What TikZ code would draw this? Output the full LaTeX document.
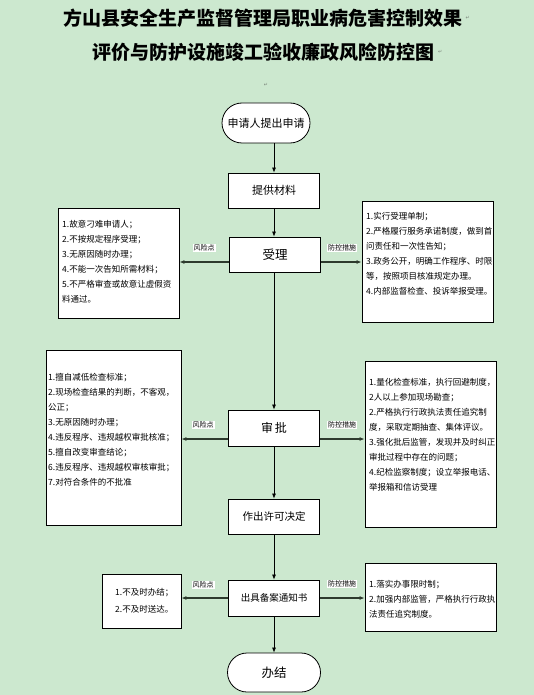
\documentclass[tikz,border=0pt]{standalone}
\usepackage{fontspec}
\setmainfont{Noto Sans CJK SC}
\newfontfamily\symfont{DejaVu Sans}
\usetikzlibrary{arrows.meta,shapes.misc}
\definecolor{bg}{RGB}{204,232,207}
\definecolor{linec}{RGB}{45,58,45}
\definecolor{pmark}{RGB}{120,130,120}
\begin{document}
\begin{tikzpicture}[x=1pt,y=-1pt,
  mainbox/.style={draw=black, fill=white, line width=0.8pt, minimum width=91pt, minimum height=35pt, inner sep=0pt},
  termbox/.style={mainbox, rounded rectangle},
  sidebox/.style={draw=black, fill=white, line width=0.8pt, inner sep=0pt},
  sidetext/.style={anchor=north west, inner sep=0pt, align=left, font=\fontsize{8.5}{15}\selectfont},
  lbl/.style={fill=white, inner sep=1pt, font=\fontsize{7}{8}\selectfont},
  arr/.style={-{Latex[length=5pt,width=4pt]}, line width=0.7pt, draw=black},
  sidearr/.style={-{Latex[length=5pt,width=4pt]}, line width=1.3pt, draw=linec},
  pm/.style={text=pmark, inner sep=0pt, font=\symfont\fontsize{5}{6}\selectfont}
]
\useasboundingbox[fill=bg] (0,0) rectangle (534,695);

% title
\node[font=\fontsize{19}{20}\selectfont\bfseries] (t1) at (262.5,18) {方山县安全生产监督管理局职业病危害控制效果};
\node[font=\fontsize{19}{20}\selectfont\bfseries] (t2) at (263.5,52) {评价与防护设施竣工验收廉政风险防控图};
\node[pm, anchor=west] (pm1) at (t1.east) {↵};
\node[pm, anchor=west] (pm2) at (t2.east) {↵};
\node[pm] (pm3) at (266,85) {↵};

% main flow
\node[termbox, minimum width=88pt, minimum height=40pt, font=\fontsize{11}{12}\selectfont] (start) at (266,123) {申请人提出申请};
\node[mainbox, font=\fontsize{11}{12}\selectfont] (cailiao) at (274,190.5) {提供材料};
\node[mainbox, font=\fontsize{12.5}{13}\selectfont] (shouli) at (275,254.5) {受理};
\node[mainbox, minimum height=36pt, font=\fontsize{12}{13}\selectfont] (shenpi) at (274,428) {审\,批};
\node[mainbox, font=\fontsize{10.5}{12}\selectfont] (zuochu) at (274,516.5) {作出许可决定};
\node[mainbox, minimum height=36pt, font=\fontsize{9.5}{11}\selectfont] (chuju) at (274,598) {出具备案通知书};
\node[termbox, minimum width=93pt, minimum height=39pt, font=\fontsize{12.5}{13}\selectfont] (banjie) at (274,672.5) {办结};

\draw[arr] (cailiao.north |- start.south) -- (cailiao.north);
\draw[arr] (cailiao.south) -- (shouli.north -| cailiao.south);
\draw[arr] (shouli.south -| shenpi.north) -- (shenpi.north);
\draw[arr] (shenpi.south) -- (zuochu.north);
\draw[arr] (zuochu.south) -- (chuju.north);
\draw[arr] (chuju.south) -- (banjie.north);

% side boxes
\node[sidebox, minimum width=121pt, minimum height=110pt] (left1) at (118.5,263) {};
\node[sidebox, minimum width=131pt, minimum height=121pt] (right1) at (427.5,261.5) {};
\node[sidebox, minimum width=135pt, minimum height=175pt] (left2) at (113.5,437.5) {};
\node[sidebox, minimum width=131pt, minimum height=166pt] (right2) at (430.5,444) {};
\node[sidebox, minimum width=79pt, minimum height=54pt] (left3) at (141.5,601) {};
\node[sidebox, minimum width=131pt, minimum height=68pt] (right3) at (430.5,597) {};

\node[sidetext] (l1t) at (62,220.5) {1.故意刁难申请人；\\2.不按规定程序受理；\\3.无原因随时办理；\\4.不能一次告知所需材料；\\5.不严格审查或故意让虚假资\\料通过。};
\node[sidetext] (r1t) at (366,212.5) {1.实行受理单制；\\2.严格履行服务承诺制度，做到首\\问责任和一次性告知；\\3.政务公开，明确工作程序、时限\\等，按照项目核准规定办理。\\4.内部监督检查、投诉举报受理。};
\node[sidetext] (l2t) at (48,373.5) {1.擅自减低检查标准；\\2.现场检查结果的判断，不客观，\\公正；\\3.无原因随时办理；\\4.违反程序、违规越权审批核准；\\5.擅自改变审查结论；\\6.违反程序、违规越权审核审批；\\7.对符合条件的不批准};
\node[sidetext] (r2t) at (369,378.5) {1.量化检查标准，执行回避制度，\\2人以上参加现场勘查；\\2.严格执行行政执法责任追究制\\度，采取定期抽查、集体评议。\\3.强化批后监管，发现并及时纠正\\审批过程中存在的问题；\\4.纪检监察制度；设立举报电话、\\举报箱和信访受理};
\node[sidetext, font=\fontsize{8.5}{16.5}\selectfont] (l3t) at (115,588.5) {1.不及时办结；\\2.不及时送达。};
\node[sidetext] (r3t) at (369,580.5) {1.落实办事限时制；\\2.加强内部监管，严格执行行政执\\法责任追究制度。};

% side connectors
\coordinate (row1) at (274,262);
\coordinate (row2) at (274,439);
\coordinate (row3) at (274,598);
\draw[sidearr] (row1 -| shouli.west) -- (row1 -| left1.east);
\draw[sidearr] (row1 -| shouli.east) -- (row1 -| right1.west);
\draw[sidearr] (row2 -| shenpi.west) -- (row2 -| left2.east);
\draw[sidearr] (row2 -| shenpi.east) -- (row2 -| right2.west);
\draw[sidearr] (row3 -| chuju.west) -- (row3 -| left3.east);
\draw[sidearr] (row3 -| chuju.east) -- (row3 -| right3.west);

\node[lbl] (fx1) at (204,248) {风险点};
\node[lbl] (fk1) at (342,248) {防控措施};
\node[lbl] (fx2) at (203,425) {风险点};
\node[lbl] (fk2) at (342,425) {防控措施};
\node[lbl] (fx3) at (203,585) {风险点};
\node[lbl] (fk3) at (342,584) {防控措施};
\end{tikzpicture}
\end{document}
